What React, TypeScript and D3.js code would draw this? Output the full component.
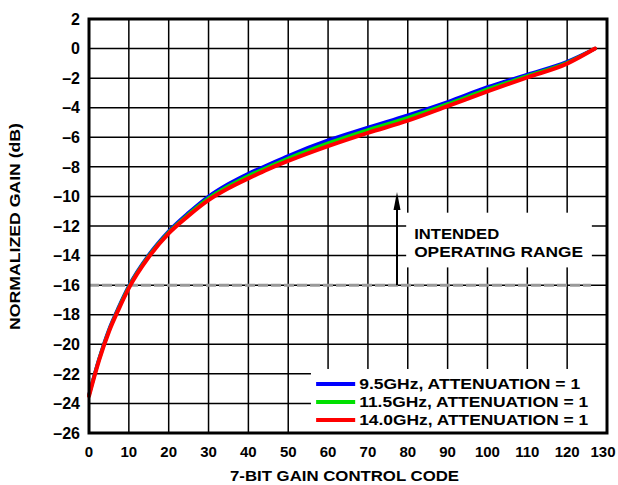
import * as d3 from 'd3'

const codes = [0, 2.5, 5, 7.5, 10, 15, 20, 25, 30, 35, 40, 45, 50, 60, 70, 80, 90, 100, 110, 120, 127]
const gain95 = [-23.4, -21.0, -19.0, -17.45, -16.05, -13.95, -12.35, -11.1, -10.0, -9.15, -8.45, -7.85, -7.25, -6.2, -5.33, -4.5, -3.6, -2.6, -1.75, -0.88, 0]
const gain115 = [-23.45, -21.05, -19.08, -17.52, -16.12, -14.02, -12.42, -11.2, -10.12, -9.3, -8.6, -8.0, -7.42, -6.4, -5.5, -4.68, -3.75, -2.75, -1.85, -0.95, 0]
const gain140 = [-23.5, -21.1, -19.15, -17.6, -16.2, -14.1, -12.5, -11.3, -10.25, -9.45, -8.78, -8.15, -7.6, -6.6, -5.7, -4.88, -3.9, -2.9, -1.95, -1.02, 0]

const seriesNames = ['9.5GHz, ATTENUATION = 1', '11.5GHz, ATTENUATION = 1', '14.0GHz, ATTENUATION = 1']
const seriesColors = ['#0000ff', '#00e000', '#ff0000']
const seriesData = [gain95, gain115, gain140]

const xTicks = d3.range(0, 131, 10)
const yTicks = d3.range(-26, 3, 2)

const width = 618
const height = 485
const margin = { top: 19, right: 11, bottom: 52, left: 89 }
const font = '"Liberation Sans", Arial, sans-serif'

export default function App() {
  const innerW = width - margin.left - margin.right
  const innerH = height - margin.top - margin.bottom

  const x = d3.scaleLinear().domain([0, 130]).range([0, innerW])
  const y = d3.scaleLinear().domain([-26, 2]).range([innerH, 0])

  const line = d3.line<number>()
    .x((_, i) => x(codes[i]))
    .y(d => y(d))
    .curve(d3.curveMonotoneX)

  const fmt = (v: number) => (v < 0 ? '–' + Math.abs(v) : String(v))

  // annotation + legend positions in data units
  const arrowX = 77.3
  const arrowTop = -9.7
  const limit = -16
  const legTop = y(-21.67)

  return (
    <svg width={width} height={height} style={{ position: 'absolute', left: 0, top: 0, background: '#fff' }}
      fontFamily={font} fontWeight="bold">
      <g transform={`translate(${margin.left},${margin.top})`}>
        {xTicks.map(t => (
          <line key={'gx' + t} x1={x(t)} x2={x(t)} y1={0} y2={innerH} stroke="#000" strokeWidth={1.5} />
        ))}
        {yTicks.map(t => (
          <line key={'gy' + t} x1={0} x2={innerW} y1={y(t)} y2={y(t)} stroke="#000" strokeWidth={1.5} />
        ))}

        {/* limit line */}
        <line x1={x(0)} x2={x(126)} y1={y(limit)} y2={y(limit)} stroke="#999" strokeWidth={3} strokeDasharray="10 3" />

        {/* annotation box */}
        <rect x={x(79.6)} y={y(-11.1)} width={x(126.2) - x(79.6)} height={y(-14.8) - y(-11.1)} fill="#fff" />
        <text x={x(81.6)} y={y(-11.1) + 26} fontSize={14} fill="#000" textLength={85} lengthAdjust="spacingAndGlyphs">INTENDED</text>
        <text x={x(81.6)} y={y(-11.1) + 44} fontSize={14} fill="#000" textLength={169} lengthAdjust="spacingAndGlyphs">OPERATING RANGE</text>
        <line x1={x(arrowX)} x2={x(arrowX)} y1={y(limit)} y2={y(arrowTop) + 14} stroke="#000" strokeWidth={2} />
        <path d={`M${x(arrowX)},${y(arrowTop)} L${x(arrowX) - 3.5},${y(arrowTop) + 18} L${x(arrowX) + 3.5},${y(arrowTop) + 18} Z`} fill="#000" />

        {/* curves */}
        {seriesData.map((s, i) => (
          <path key={'s' + i} d={line(s) || ''} fill="none" stroke={seriesColors[i]}
            strokeWidth={i === 2 ? 4 : 3.5} strokeLinecap="round" />
        ))}

        {/* legend */}
        <rect x={x(55.7)} y={legTop} width={innerW - x(55.7)} height={innerH - legTop} fill="#fff" />
        {seriesNames.map((n, i) => {
          const ly = legTop + 15 + i * 18
          return (
            <g key={'lg' + i}>
              <line x1={x(57)} x2={x(66.8)} y1={ly} y2={ly} stroke={seriesColors[i]} strokeWidth={4} />
              <text x={x(67.8)} y={ly + 5} fontSize={14} fill="#000"
                textLength={i === 0 ? 221 : 229} lengthAdjust="spacingAndGlyphs">{n}</text>
            </g>
          )
        })}

        {/* frame */}
        <rect x={0} y={0} width={innerW} height={innerH} fill="none" stroke="#000" strokeWidth={3} />

        {xTicks.map(t => (
          <text key={'tx' + t} x={t === 130 ? x(t) - 4 : x(t)} y={innerH + 24} textAnchor="middle" fontSize={15} fill="#000">{t}</text>
        ))}
        {yTicks.map(t => (
          <text key={'ty' + t} x={-9} y={y(t)} dy="0.36em" textAnchor="end" fontSize={16} fill="#000">{fmt(t)}</text>
        ))}

        <text x={230 - margin.left} y={innerH + 48} fontSize={15} fill="#000"
          textLength={229} lengthAdjust="spacingAndGlyphs">7-BIT GAIN CONTROL CODE</text>
        <text transform={`translate(${-69},${226.5 - margin.top}) rotate(-90)`} x={-103.5} fontSize={15} fill="#000"
          textLength={207} lengthAdjust="spacingAndGlyphs">NORMALIZED GAIN (dB)</text>
      </g>
    </svg>
  )
}
